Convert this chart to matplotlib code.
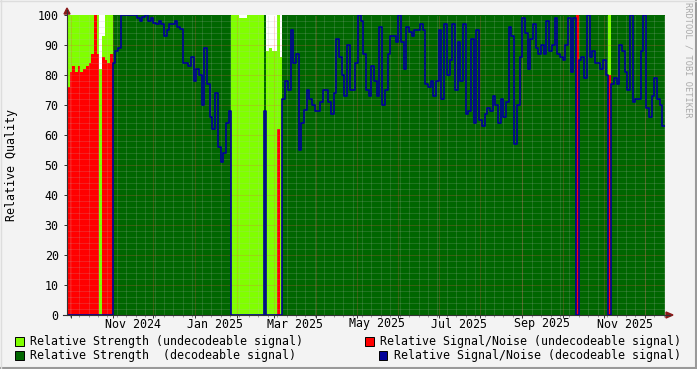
import matplotlib
matplotlib.use("Agg")
import matplotlib.pyplot as plt
import matplotlib.dates as mdates
from matplotlib.patches import Polygon, Rectangle
from matplotlib.lines import Line2D
import numpy as np
import pandas as pd

# one sample every 2 days, starting at the left edge of the graph
start = "2024-09-28"
end = "2025-12-16"

# D = decodeable signal, U = undecodeable signal (run lengths, per sample)
state = ("U" * 17 + "D" * 44 + "U" * 12 + "D" * 1 + "U" * 6 +
         "D" * 109 + "U" + "D" * 11 + "U" + "D" * 20)

# relative strength per sample
strength = ([100] * 12 + [82, 93, 100, 100, 100] +
            [100] * 44 +
            [100, 100, 100, 99, 99, 99, 100, 100, 100, 100, 100, 100] +
            [100] +
            [88, 89, 88, 88, 100, 86] +
            [100] * 142)

# relative signal/noise per sample
snr = ([76, 81, 83, 81, 83, 81, 82, 83, 84, 87, 100, 87, 0, 86, 85, 84, 87] +
       [84, 88, 89, 100, 100, 100, 100, 100, 100, 99, 98, 99.5, 100, 98, 99,
        97.5, 97, 98, 97, 93, 95, 97, 97, 98, 96, 95.5, 84, 84, 83, 86, 78,
        82, 80, 70, 89, 77, 66, 62, 74, 56, 51, 54, 64, 68] +
       [0] * 12 +
       [68] +
       [0, 0, 0, 0, 62, 0] +
       [72, 78, 75, 95, 84, 87, 55, 64, 68.5, 75,
        72, 70, 68, 68, 71, 75, 75, 71, 67, 74,
        92, 86, 80, 73, 90, 75, 75, 84, 100, 98,
        87, 75, 73, 83, 78, 73, 96, 70, 75, 87,
        93, 93, 91, 100, 91, 82, 96, 94.5, 93, 95,
        95, 97, 95, 77, 76, 78, 73, 78, 95, 72,
        97, 80, 85, 97, 75, 91, 78, 97, 67, 68,
        92, 64, 95, 65, 63, 67, 69, 68, 73, 70,
        64, 72, 66, 71, 96, 93, 57, 70, 86, 99,
        94, 82, 92, 97, 89, 87, 90, 87, 98, 88,
        90, 99, 87, 86, 85, 90, 99, 81, 99] +
       [100] +
       [85, 86, 79, 100, 86, 88, 84, 84, 82, 85, 80] +
       [80] +
       [77, 79, 77, 90, 88, 81, 75, 100, 71, 72, 72, 88, 100, 69, 66, 73,
        79, 72, 70, 63])

x_labels = ["Nov 2024", "Jan 2025", "Mar 2025", "May 2025", "Jul 2025",
            "Sep 2025", "Nov 2025"]

W, H = 697, 369
MONO = "DejaVu Sans Mono"
FS = 8.4

dec = np.array([c == "D" for c in state])
strength = np.array(strength, dtype=float)
snr = np.array(snr, dtype=float)
light = np.where(~dec, strength, 0)
dark = np.where(dec, strength, 0)
red = np.where(~dec, snr, 0)
blue = np.where(dec, snr, 0)

edges = mdates.date2num(pd.date_range(start, periods=len(snr) + 1, freq="2D"))


def ext(v):
    return np.append(v, v[-1])


fig = plt.figure(figsize=(W / 100, H / 100), dpi=100, facecolor="#f3f3f3")
ax = fig.add_axes([67 / W, 1 - 315 / H, 598 / W, 300 / H])
ax.set_facecolor("white")

ax.fill_between(edges, ext(light), step="post", color="#80ff00", lw=0, zorder=1)
ax.fill_between(edges, ext(dark), step="post", color="#006600", lw=0, zorder=2)
ax.fill_between(edges, ext(red), step="post", color="#ff0000", lw=0, zorder=3)
ax.plot(edges, ext(blue), drawstyle="steps-post", color="#000099", lw=1.2, zorder=6)

x0, x1 = mdates.date2num(pd.Timestamp(start)), mdates.date2num(pd.Timestamp(end))
ax.set_xlim(x0, x1)
ax.set_ylim(0, 100)

# grid (rrdtool style dotted, on top of the areas)
minor_c = (0.73, 0.73, 0.73, 0.36)
major_c = (1.0, 0.3, 0.3, 0.45)
dots = (0, (1, 1))
weeks = mdates.date2num(pd.date_range("2024-09-30", end, freq="7D"))
months = mdates.date2num(pd.date_range("2024-10-01", end, freq="MS"))
for w in weeks:
    ax.axvline(w, color=minor_c, lw=0.72, ls=dots, zorder=4)
for m in months:
    ax.axvline(m, color=major_c, lw=0.72, ls=dots, zorder=4)
for v in range(2, 100, 2):
    c = major_c if v % 10 == 0 else minor_c
    ax.axhline(v, color=c, lw=0.72, ls=dots, zorder=4)

for s in ax.spines.values():
    s.set_visible(False)

ax.set_yticks(range(0, 101, 10))
ax.set_yticklabels([str(v) for v in range(0, 101, 10)], family=MONO, fontsize=FS)
ax.tick_params(axis="y", length=2, width=0.7, pad=4, color="#333333")
ax.set_xticks(months)
ax.set_xticklabels([])
ax.set_xticks(weeks, minor=True)
ax.tick_params(axis="x", which="major", length=2.5, width=0.7, color="#333333")
ax.tick_params(axis="x", which="minor", length=1.5, width=0.5, color="#777777")

for lab in x_labels:
    mid = pd.Timestamp(pd.to_datetime(lab, format="%b %Y")) + pd.Timedelta(days=15)
    ax.text(mdates.date2num(mid), -0.03, lab, transform=ax.get_xaxis_transform(),
            ha="center", va="center", family=MONO, fontsize=FS)

# axis lines and arrows
def fx(px):
    return px / W


def fy(py):
    return 1 - py / H


fig.add_artist(Line2D([fx(67), fx(67)], [fy(315), fy(10)], color="#333333", lw=0.8))
fig.add_artist(Line2D([fx(63), fx(670)], [fy(315), fy(315)], color="#333333", lw=0.8))
fig.add_artist(Polygon([(fx(64), fy(14)), (fx(70), fy(14)), (fx(67), fy(8))],
                       closed=True, transform=fig.transFigure, color="#8b1a1a"))
fig.add_artist(Polygon([(fx(666), fy(312)), (fx(666), fy(318)), (fx(673), fy(315))],
                       closed=True, transform=fig.transFigure, color="#8b1a1a"))

fig.text(fx(12), fy(165), "Relative Quality", rotation=90, ha="center", va="center",
         family=MONO, fontsize=FS)
fig.text(fx(688), fy(60), "RRDTOOL / TOBI OETIKER", rotation=270, ha="center",
         va="center", family=MONO, fontsize=6.2, color="#aaaaaa")

# legend
legend = [
    ("Relative Strength (undecodeable signal)", "#80ff00", 15, 341, "left"),
    ("Relative Strength  (decodeable signal)", "#006600", 15, 355, "left"),
    ("Relative Signal/Noise (undecodeable signal)", "#ff0000", 365, 341, "right"),
    ("Relative Signal/Noise (decodeable signal)", "#000099", 379, 355, "right"),
]
for text, col, sx, sy, side in legend:
    fig.add_artist(Rectangle((fx(sx), fy(sy + 4.5)), 8.5 / W, 8.5 / H,
                             transform=fig.transFigure, facecolor=col,
                             edgecolor="black", lw=0.7))
    if side == "left":
        fig.text(fx(sx + 15), fy(sy), text, ha="left", va="center",
                 family=MONO, fontsize=FS)
    else:
        fig.text(fx(681), fy(sy), text, ha="right", va="center",
                 family=MONO, fontsize=FS)

# outer frame shading
fig.add_artist(Line2D([0, 1], [fy(368), fy(368)], color="#999999", lw=1.5))
fig.add_artist(Line2D([fx(696), fx(696)], [0, 1], color="#999999", lw=1.5))
fig.add_artist(Line2D([0, 1], [fy(0.5), fy(0.5)], color="#dddddd", lw=1.0))
fig.add_artist(Line2D([fx(0.5), fx(0.5)], [0, 1], color="#dddddd", lw=1.0))

fig.savefig("out.png", dpi=100, facecolor=fig.get_facecolor())
